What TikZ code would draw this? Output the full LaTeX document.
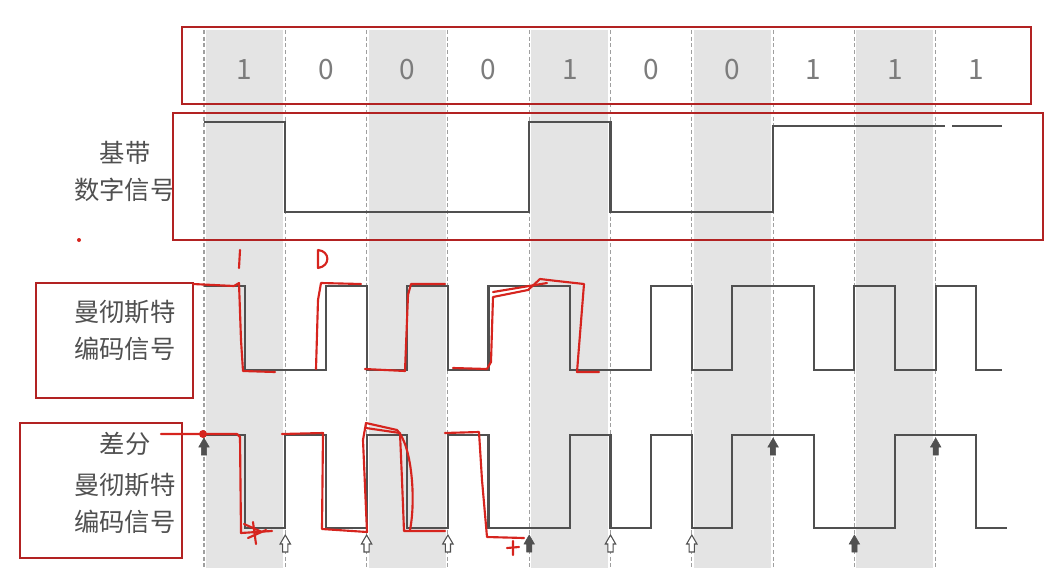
\documentclass[tikz,border=0pt]{standalone}
\usepackage{fontspec}
\setmainfont{Noto Sans CJK SC}
\definecolor{boxred}{RGB}{178,34,34}
\definecolor{pencol}{RGB}{214,36,30}
\definecolor{sigcol}{RGB}{80,80,80}
\definecolor{bandcol}{RGB}{228,228,228}

\begin{document}
\begin{tikzpicture}[x=0.75pt, y=-0.75pt,
    sig/.style={draw=sigcol, line width=1.6pt},
    frame/.style={draw=boxred, line width=1.4pt},
    pen/.style={draw=pencol, line width=1.6pt, line join=round, line cap=round},
    lbl/.style={text=sigcol, font=\fontsize{19}{22}\selectfont, inner sep=0pt},
    bit/.style={text=sigcol!75, font=\fontsize{21}{24}\selectfont, inner sep=0pt},
    blk/.pic={\path[pic actions] (-2.6,0) -- (2.6,0) -- (2.6,-8) -- (5.2,-8) -- (0,-17) -- (-5.2,-8) -- (-2.6,-8) -- cycle;}]
    \useasboundingbox (0,0) rectangle (1058,572);

    % shaded bit cells and cell borders
    \foreach \i in {0,2,4,6,8}
        \fill[bandcol] ({206+81.3*\i},30) rectangle ({283+81.3*\i},568);
    \foreach \i in {0,...,9}
        \draw[gray!75, line width=0.8pt, dash pattern=on 3pt off 2pt] ({204+81.3*\i},30) -- ({204+81.3*\i},568);

    % bits
    \foreach \b [count=\i from 0] in {1,0,0,0,1,0,0,1,1,1}
        \node[bit] (bit\i) at ({244.6+81.3*\i},70) {\b};

    % labels
    \node[lbl] (base1) at (125,153) {基带};
    \node[lbl] (base2) at (125,190) {数字信号};
    \node[lbl] (man1) at (125,312) {曼彻斯特};
    \node[lbl] (man2) at (125,349) {编码信号};
    \node[lbl] (diff1) at (125,444) {差分};
    \node[lbl] (diff2) at (125,485) {曼彻斯特};
    \node[lbl] (diff3) at (125,522) {编码信号};

    % red frames
    \draw[frame] (182,27) rectangle (1031,104);
    \draw[frame] (173,113) rectangle (1043,240);
    \draw[frame] (36,283) rectangle (193,398);
    \draw[frame] (20,423) rectangle (182,558);

    % baseband signal
    \draw[sig] (204,122) -- (285.3,122) -- (285.3,212) -- (529.2,212) -- (529.2,122) -- (610.5,122)
        -- (610.5,212) -- (773.1,212) -- (773.1,126) -- (945,126);
    \draw[sig] (952,126) -- (1002,126);

    % manchester
    \draw[sig] (204,286) -- (244.6,286) -- (244.6,370) -- (326,370) -- (326,286) -- (366.6,286)
        -- (366.6,370) -- (407,370) -- (407,286) -- (447.9,286) -- (447.9,370) -- (488.5,370)
        -- (488.5,286) -- (569.8,286) -- (569.8,370) -- (651,370) -- (651,286) -- (691.8,286)
        -- (691.8,370) -- (732.4,370) -- (732.4,286) -- (813.7,286) -- (813.7,370) -- (854.4,370)
        -- (854.4,286) -- (895,286) -- (895,370) -- (935.7,370) -- (935.7,286) -- (976.3,286)
        -- (976.3,370) -- (1002,370);

    % differential manchester
    \draw[sig] (204,435) -- (244.6,435) -- (244.6,528) -- (285.3,528) -- (285.3,435) -- (326,435)
        -- (326,528) -- (366.6,528) -- (366.6,435) -- (407,435) -- (407,528) -- (447.9,528)
        -- (447.9,435) -- (488.5,435) -- (488.5,528) -- (569.8,528) -- (569.8,435) -- (610.5,435)
        -- (610.5,528) -- (651,528) -- (651,435) -- (691.8,435) -- (691.8,528) -- (732.4,528)
        -- (732.4,435) -- (813.7,435) -- (813.7,528) -- (895,528) -- (895,435) -- (976.3,435)
        -- (976.3,528) -- (1007,528);

    % arrows at cell borders
    \pic[draw=sigcol, fill=sigcol] (a0) at (204,455) {blk};
    \pic[draw=sigcol, fill=white, line width=0.8pt] (a1) at (285.3,552) {blk};
    \pic[draw=sigcol, fill=white, line width=0.8pt] (a2) at (366.6,552) {blk};
    \pic[draw=sigcol, fill=white, line width=0.8pt] (a3) at (447.9,552) {blk};
    \pic[draw=sigcol, fill=sigcol] (a4) at (529.2,552) {blk};
    \pic[draw=sigcol, fill=white, line width=0.8pt] (a5) at (610.5,552) {blk};
    \pic[draw=sigcol, fill=white, line width=0.8pt] (a6) at (691.8,552) {blk};
    \pic[draw=sigcol, fill=sigcol] (a7) at (773.1,455) {blk};
    \pic[draw=sigcol, fill=sigcol] (a8) at (854.4,552) {blk};
    \pic[draw=sigcol, fill=sigcol] (a9) at (935.7,455) {blk};

    % red pen notes
    \fill[pencol] (79,240) circle (1.5pt);
    \draw[pen] (240,250) -- (239,268);
    \draw[pen] (318,250) -- (318,268) .. controls (331,266) and (330,251) .. (318,250);
    \draw[pen] (193,284) -- (234,286) -- (239,283) -- (241,340) -- (243,371) -- (275,372);
    \draw[pen] (316,369) -- (318,300) -- (321,283) -- (361,284);
    \draw[pen] (365,369) -- (405,371) -- (408,295) -- (411,284) -- (445,284);
    \draw[pen] (453,368) -- (487,369) -- (491,362) -- (493,297) -- (528,290) -- (540,279)
        -- (557,281) -- (584,284) -- (577,372) -- (599,372);
    \draw[pen] (493,292) -- (547,283);
    \fill[pencol] (203,434) circle (3pt);
    \draw[pen] (161,434) -- (237,434) -- (240,437) -- (241,533) -- (272,531);
    \draw[pen] (244,524) -- (262,532) (248,538) -- (266,530) (253,522) -- (256,544);
    \draw[pen] (282,434) -- (323,433) -- (322,529) -- (367,532) -- (363,440) -- (366,423) -- (397,430);
    \draw[pen] (366,428) -- (400,433) -- (402,480) -- (404,531) -- (445,531);
    \draw[pen] (397,430) .. controls (412,445) and (416,500) .. (410,530);
    \draw[pen] (445,433) -- (479,432) -- (482,480) -- (487,537) -- (524,538);
    \draw[pen] (507,548) -- (519,547) (513,541) -- (513,555);
\end{tikzpicture}
\end{document}
